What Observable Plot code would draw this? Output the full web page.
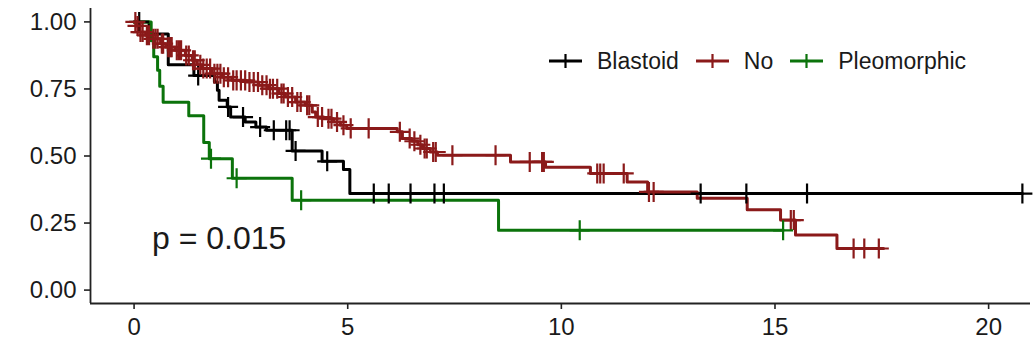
<!DOCTYPE html>
<html><head><meta charset="utf-8">
<script src="https://cdn.jsdelivr.net/npm/d3@7"></script>
<script src="https://cdn.jsdelivr.net/npm/@observablehq/plot@0.6"></script>
<style>
body{margin:0;background:#fff;}
#wrap{position:relative;width:1033px;height:347px;font-family:"Liberation Sans",Arial,sans-serif;}
#legend{position:absolute;left:549px;top:46px;display:flex;align-items:center;font-size:23px;color:#1a1a1a;line-height:30px;}
.item{display:flex;align-items:center;margin-right:17px;}
.item svg{margin-right:15px;display:block;}
</style></head><body><div id="wrap"><div id="legend"></div></div>
<script>
// ---- data ----
const groups = ["Blastoid", "No", "Pleomorphic"];
const colors = ["#000000", "#8B1A1A", "#0B730B"];

const blastoidTime = [0, 0.35, 0.8, 1.4, 1.88, 1.95, 1.99, 2.18, 2.26, 2.6, 2.85, 3.1, 3.7, 4.4, 4.9, 5.05, 20.79];
const blastoidSurv = [1.0, 0.955, 0.84, 0.80, 0.776, 0.745, 0.708, 0.683, 0.645, 0.627, 0.608, 0.596, 0.519, 0.48, 0.45, 0.36, 0.36];
const blastoidCensor = [0.12, 1.5, 2.2, 2.55, 2.95, 3.27, 3.56, 3.64, 3.78, 4.52, 5.61, 5.96, 6.47, 7.03, 7.25, 13.26, 14.33, 15.75, 20.79];

const noTime = [0, 0.05, 0.11, 0.27, 0.43, 0.62, 0.74, 0.97, 1.2, 1.36, 1.48, 1.6, 1.83, 2.06, 2.3, 2.61, 2.92, 3.15, 3.39, 3.54, 3.78, 4.01, 4.17, 4.25, 4.44, 4.67, 4.83, 4.98, 6.16, 6.28, 6.5, 6.64, 6.75, 6.93, 7.1, 8.81, 9.63, 10.68, 11.54, 12.02, 13.18, 14.35, 15.13, 15.48, 16.45, 17.54];
const noSurv = [1.0, 0.985, 0.962, 0.95, 0.937, 0.919, 0.906, 0.894, 0.875, 0.857, 0.84, 0.826, 0.807, 0.794, 0.782, 0.776, 0.764, 0.751, 0.733, 0.72, 0.701, 0.689, 0.664, 0.645, 0.639, 0.627, 0.615, 0.603, 0.59, 0.565, 0.555, 0.542, 0.528, 0.515, 0.503, 0.478, 0.458, 0.435, 0.403, 0.366, 0.342, 0.30, 0.261, 0.205, 0.155, 0.155];
const noCensor = [0.03, 0.08, 0.15, 0.2, 0.3, 0.35, 0.45, 0.5, 0.55, 0.65, 0.68, 0.8, 0.85, 0.88, 1.0, 1.05, 1.1, 1.22, 1.28, 1.38, 1.42, 1.55, 1.62, 1.7, 1.78, 1.88, 1.95, 2.02, 2.1, 2.2, 2.32, 2.4, 2.5, 2.6, 2.7, 2.8, 2.9, 3.0, 3.1, 3.18, 3.25, 3.35, 3.45, 3.5, 3.6, 3.7, 3.82, 3.9, 4.05, 4.1, 4.3, 4.4, 4.55, 4.62, 4.75, 4.9, 5.07, 5.49, 6.22, 6.45, 6.56, 6.7, 6.8, 6.85, 7.0, 7.06, 7.45, 8.46, 9.26, 9.55, 9.59, 10.84, 10.91, 10.99, 11.46, 12.05, 12.16, 15.37, 15.44, 16.84, 17.09, 17.43];

const pleoTime = [0, 0.40, 0.46, 0.55, 0.60, 0.68, 1.28, 1.63, 1.76, 2.30, 3.70, 8.53, 15.19];
const pleoSurv = [1.0, 0.93, 0.87, 0.82, 0.76, 0.70, 0.65, 0.55, 0.49, 0.417, 0.335, 0.223, 0.223];
const pleoCensor = [1.8, 2.4, 3.91, 10.43, 15.19];

const xTicks = [0, 5, 10, 15, 20];
const yTicks = [0, 0.25, 0.5, 0.75, 1];
const xDomain = [-1.02, 20.98];
const yDomain = [-0.05, 1.05];
const pvalLabel = "p = 0.015";
const pvalCoord = [0.42, 0.19];

// ---- build ----
const series = [
  {group: "Blastoid", time: blastoidTime, surv: blastoidSurv, censor: blastoidCensor},
  {group: "No", time: noTime, surv: noSurv, censor: noCensor},
  {group: "Pleomorphic", time: pleoTime, surv: pleoSurv, censor: pleoCensor}
];
function stepValue(times, survs, t) {
  let v = survs[0];
  for (let i = 0; i < times.length; i++) if (times[i] <= t + 1e-9) v = survs[i];
  return v;
}
const curves = [], censors = [];
series.forEach(s => {
  s.time.forEach((t, i) => curves.push({group: s.group, time: t, surv: s.surv[i]}));
  s.censor.forEach(t => censors.push({group: s.group, time: t, surv: stepValue(s.time, s.surv, t)}));
});

const font = '"Liberation Sans", Arial, sans-serif';
const chart = Plot.plot({
  width: 1033, height: 347,
  marginLeft: 90, marginRight: 3, marginTop: 8, marginBottom: 44,
  style: {fontFamily: font, background: "transparent", overflow: "visible"},
  x: {domain: xDomain},
  y: {domain: yDomain},
  color: {domain: groups, range: colors},
  marks: [
    Plot.axisY({ticks: yTicks, tickSize: 6, tickPadding: 8, tickFormat: d3.format(".2f"), fontSize: 24, stroke: "#222", strokeWidth: 1.6, fill: "#1a1a1a", label: null}),
    Plot.axisX({ticks: xTicks, tickSize: 6, tickPadding: 8, fontSize: 24, stroke: "#222", strokeWidth: 1.6, fill: "#1a1a1a", label: null}),
    Plot.ruleX([xDomain[0]], {stroke: "#222", strokeWidth: 1.8}),
    Plot.ruleY([yDomain[0]], {stroke: "#222", strokeWidth: 1.8}),
    Plot.line(curves, {x: "time", y: "surv", z: "group", stroke: "group", curve: "step-after", strokeWidth: 3}),
    Plot.dot(censors, {x: "time", y: "surv", stroke: "group", symbol: "plus", r: 6.5, strokeWidth: 2.2}),
    Plot.text([pvalLabel], {x: pvalCoord[0], y: pvalCoord[1], text: d => d, textAnchor: "start", lineAnchor: "middle", fontSize: 32, fill: "#1a1a1a"})
  ]
});
const wrap = document.getElementById("wrap");
wrap.insertBefore(chart, wrap.firstChild);

// legend
const legend = d3.select("#legend");
groups.forEach((g, i) => {
  const it = legend.append("div").attr("class", "item");
  const sv = it.append("svg").attr("width", 33).attr("height", 20);
  sv.append("line").attr("x1", 0).attr("x2", 33).attr("y1", 10).attr("y2", 10).attr("stroke", colors[i]).attr("stroke-width", 3);
  sv.append("line").attr("x1", 16.5).attr("x2", 16.5).attr("y1", 3).attr("y2", 17).attr("stroke", colors[i]).attr("stroke-width", 2.2);
  it.append("span").text(g);
});
</script></body></html>
